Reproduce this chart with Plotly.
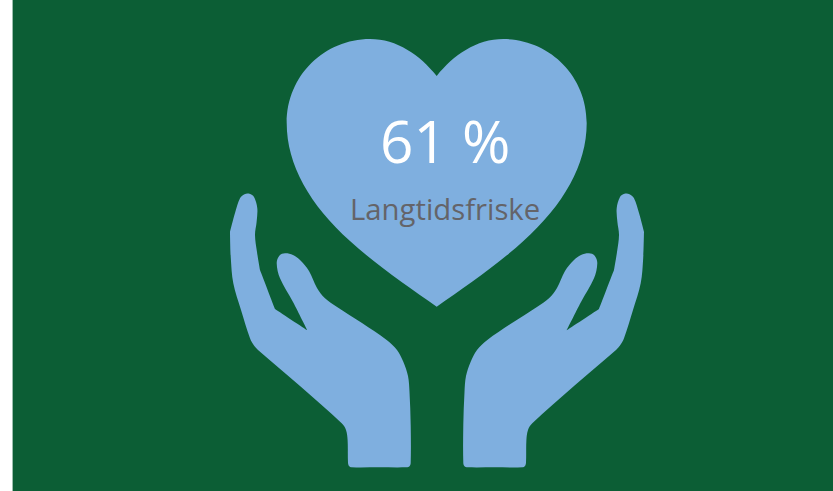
import math
import plotly.graph_objects as go

WIDTH, HEIGHT = 833, 491
BACKGROUND = "#0C5E35"
ICON_BLUE = "#7FAFDF"
LABEL_GREY = "#646469"
FONT = "Open Sans"

value_label = "61 %"
caption = "Langtidsfriske"

# Icon outlines, in canvas units. The last element of a point marks a sharp corner.
heart_left_x = [436.7, 420, 397, 370, 325, 286.7, 286.7, 286.7, 310, 350, 375, 410, 436.7]
heart_left_y = [76, 55, 39, 39, 39, 75, 123, 165, 205, 241, 264, 288, 306.7]

hand_outline = [
    (244.5, 194.2, 0), (249.5, 193.8, 0), (254, 197, 0), (257.3, 208.3, 0), (256.6, 222, 0),
    (255, 235, 0), (257, 252, 0), (260, 270, 1), (275, 309, 1),
    (307.3, 330.3, 1), (293, 302, 0), (280, 278.3, 0), (276.7, 263.3, 0), (279.5, 255.5, 0),
    (285, 253.3, 0), (293, 255, 0), (300, 260, 0),
    (309, 271, 0), (317, 288, 0), (325, 298.3, 0), (336.7, 306.7, 0), (362, 323, 0),
    (386.7, 340, 0), (397, 350, 0), (403.3, 361.7, 0),
    (408, 376, 0), (409.5, 392, 0), (410.7, 425, 0), (410.7, 463, 0), (409.5, 466.2, 0),
    (406.7, 467.3, 0), (379, 467.3, 0), (351.7, 467.3, 0), (349, 466, 0), (348, 462.5, 0),
    (347.6, 440, 0), (346, 430, 0), (341.7, 423.3, 0), (300, 386, 0), (258, 350, 0),
    (254, 345.5, 0), (250, 338.3, 0), (241, 310, 0), (233.3, 283.3, 0),
    (230.8, 258, 0), (230, 231.7, 1), (235, 213, 0), (240, 198.3, 0),
]
MIRROR_SUM = 874


def heart_path():
    xs = heart_left_x + [2 * heart_left_x[0] - x for x in reversed(heart_left_x[:-1])]
    ys = heart_left_y + list(reversed(heart_left_y[:-1]))
    parts = [f"M{xs[0]},{ys[0]}"]
    for i in range(1, len(xs), 3):
        parts.append(f"C{xs[i]},{ys[i]} {xs[i+1]},{ys[i+1]} {xs[i+2]},{ys[i+2]}")
    return " ".join(parts) + " Z"


def unit_tangent(prev, point, nxt):
    dx, dy = nxt[0] - prev[0], nxt[1] - prev[1]
    length = math.hypot(dx, dy) or 1
    return dx / length, dy / length


def smooth_path(points):
    # Closed spline through the points: handle length follows the segment length,
    # so closely spaced points cannot overshoot. Corners get no handle.
    n = len(points)
    parts = [f"M{points[0][0]},{points[0][1]}"]
    for i in range(n):
        p0, p1, p2, p3 = points[i - 1], points[i], points[(i + 1) % n], points[(i + 2) % n]
        handle = math.hypot(p2[0] - p1[0], p2[1] - p1[1]) / 3
        t1 = unit_tangent(p0, p1, p2)
        t2 = unit_tangent(p1, p2, p3)
        k1 = 0 if p1[2] else handle
        k2 = 0 if p2[2] else handle
        c1 = (p1[0] + t1[0] * k1, p1[1] + t1[1] * k1)
        c2 = (p2[0] - t2[0] * k2, p2[1] - t2[1] * k2)
        parts.append(f"C{c1[0]:.2f},{c1[1]:.2f} {c2[0]:.2f},{c2[1]:.2f} {p2[0]},{p2[1]}")
    return " ".join(parts) + " Z"


def icon_shape(path):
    return dict(type="path", path=path, fillcolor=ICON_BLUE, line=dict(width=0), layer="above")


mirrored_hand = [(MIRROR_SUM - x, y, c) for x, y, c in hand_outline]

fig = go.Figure()
fig.update_layout(
    width=WIDTH,
    height=HEIGHT,
    margin=dict(l=0, r=0, t=0, b=0),
    paper_bgcolor="white",
    plot_bgcolor="white",
    showlegend=False,
    xaxis=dict(range=[0, WIDTH], visible=False, fixedrange=True),
    yaxis=dict(range=[HEIGHT, 0], visible=False, fixedrange=True),
    shapes=[
        dict(type="rect", x0=12.6, x1=WIDTH, y0=0, y1=HEIGHT,
             fillcolor=BACKGROUND, line=dict(width=0), layer="below"),
        icon_shape(smooth_path(hand_outline)),
        icon_shape(smooth_path(mirrored_hand)),
        icon_shape(heart_path()),
    ],
    annotations=[
        dict(x=444.5, y=139.5, text=value_label, showarrow=False, xanchor="center", yanchor="middle",
             font=dict(family=FONT, size=58.5, color="white")),
        dict(x=445, y=209, text=caption, showarrow=False, xanchor="center", yanchor="middle",
             font=dict(family=FONT, size=29.3, color=LABEL_GREY)),
    ],
)

fig.write_html("out.html", config=dict(displayModeBar=False))
